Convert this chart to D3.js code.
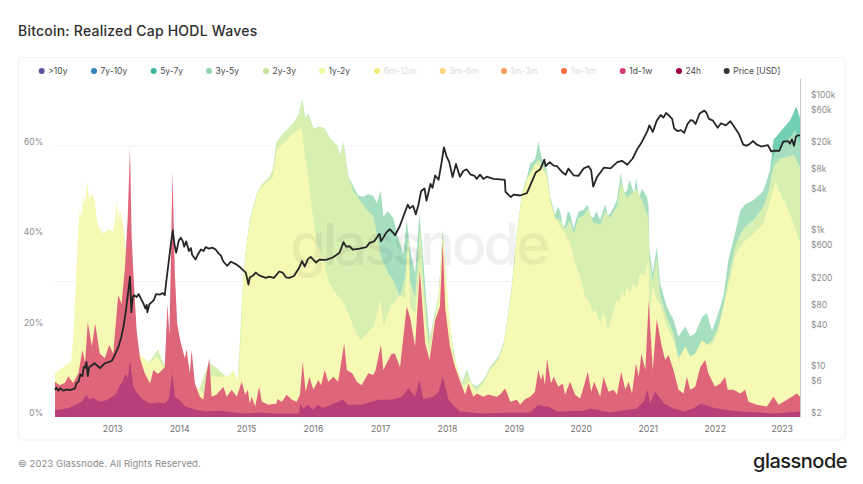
<!DOCTYPE html>
<html><head><meta charset="utf-8">
<script src="https://cdnjs.cloudflare.com/ajax/libs/d3/7.8.5/d3.min.js"></script>
<style>html,body{margin:0;background:#fff}svg{display:block}text{font-family:Inter,"Noto Sans",sans-serif}</style>
</head><body><svg id="c" width="863" height="484"></svg>
<script>
const legendNames=[">10y","7y-10y","5y-7y","3y-5y","2y-3y","1y-2y","6m-12m","3m-6m","1m-3m","1w-1m","1d-1w","24h","Price [USD]"];
const legendColors=["#5e4fa2","#3288bd","#3db39a","#94d4b0","#c5e59b","#f0f9a0","#f2ef7a","#fdd57f","#fb9c5c","#f46d43","#d53e6f","#9e0142","#333333"];
const legendMuted=["6m-12m","3m-6m","1m-3m","1w-1m"];
const yearTicks=[2013,2014,2015,2016,2017,2018,2019,2020,2021,2022,2023];
const pctTicks=[0,20,40,60];
const priceTicks=[2,6,10,40,80,200,600,1000,4000,8000,20000,60000,100000];
const priceGrid=[200,20000];
// each band: [decimal year, cumulative % of realized cap at the top of the band]
const top24h=[[2012.15,1.5],[2012.25,1.7],[2012.35,2],[2012.45,2.6],[2012.55,3.4],[2012.62,5],[2012.66,3.8],[2012.72,4.2],[2012.82,3.4],[2012.92,3.7],[2013.0,4.5],[2013.07,5.2],[2013.12,7],[2013.16,7.8],[2013.2,9.5],[2013.24,8.8],[2013.27,12.6],[2013.32,6.7],[2013.38,5.2],[2013.45,4],[2013.57,3],[2013.7,3.2],[2013.79,3],[2013.85,4],[2013.905,9.7],[2013.94,4.5],[2014.0,3.8],[2014.1,2.3],[2014.25,1.6],[2014.4,1.2],[2014.6,1.4],[2015.0,0.8],[2015.2,1],[2015.5,0.7],[2015.8,0.8],[2015.81,3],[2015.86,1.9],[2015.93,2.7],[2016.0,1.6],[2016.08,2.7],[2016.15,2],[2016.28,2.7],[2016.45,3.8],[2016.53,2.7],[2016.73,2.7],[2016.98,3.8],[2017.18,3.8],[2017.33,4.5],[2017.43,6.3],[2017.53,4.5],[2017.595,8.2],[2017.65,4],[2017.8,4.5],[2017.88,5.5],[2017.943,8.9],[2018.03,3.8],[2018.1,2.6],[2018.2,1.2],[2018.55,0.8],[2018.95,1],[2019.25,1],[2019.37,2.7],[2019.45,2.3],[2019.52,2.3],[2019.65,1.2],[2020.05,1.4],[2020.15,1.9],[2020.44,1],[2020.84,1.9],[2020.95,3.5],[2021.0,6],[2021.04,3],[2021.115,5.6],[2021.25,3],[2021.39,1.9],[2021.55,1.2],[2021.7,2],[2021.8,3],[2021.88,2.6],[2022.0,2],[2022.2,1.5],[2022.4,1.2],[2022.9,0.8],[2023.28,1.2]];
const top1d1w=[[2012.15,7.8],[2012.22,7],[2012.3,7.6],[2012.35,9],[2012.42,7.5],[2012.5,9.7],[2012.56,14.8],[2012.6,12],[2012.64,21],[2012.7,15.6],[2012.75,20.7],[2012.82,14],[2012.895,13],[2012.96,16],[2013.02,14],[2013.095,27],[2013.145,25],[2013.195,33],[2013.235,43.6],[2013.27,59.5],[2013.295,40],[2013.32,32],[2013.37,19],[2013.42,13],[2013.49,9.7],[2013.57,7.4],[2013.62,10.4],[2013.69,9.5],[2013.79,11],[2013.83,25],[2013.86,18],[2013.905,54.5],[2013.94,32],[2013.975,20.7],[2014.02,17],[2014.09,13],[2014.115,15],[2014.165,9.7],[2014.19,14.8],[2014.24,7.4],[2014.315,4.5],[2014.365,3.8],[2014.415,9.7],[2014.455,13],[2014.49,4.5],[2014.565,5],[2014.665,6.7],[2014.715,4.5],[2014.79,6],[2014.865,4.5],[2014.94,7.8],[2014.99,4.9],[2015.03,6],[2015.06,3],[2015.09,4.5],[2015.14,2.3],[2015.2,6.7],[2015.24,3.4],[2015.34,2.7],[2015.46,3],[2015.47,4],[2015.54,3.4],[2015.61,4.9],[2015.69,3.8],[2015.76,3.4],[2015.81,4.9],[2015.85,12.2],[2015.895,5.6],[2015.95,8.9],[2016.01,6],[2016.085,8.2],[2016.125,7],[2016.18,10.4],[2016.23,7.8],[2016.31,8.9],[2016.38,7.8],[2016.47,16.3],[2016.51,10.4],[2016.59,9.7],[2016.66,7.8],[2016.73,7],[2016.83,9.7],[2016.905,9.3],[2016.94,10.4],[2017.02,16],[2017.055,10.4],[2017.105,11.9],[2017.18,14],[2017.23,14],[2017.305,11],[2017.355,17.8],[2017.405,24.5],[2017.455,22],[2017.53,15.6],[2017.6,32.5],[2017.68,16.3],[2017.745,12.6],[2017.83,21.5],[2017.9,24.4],[2017.943,39],[2017.98,24],[2018.05,15.6],[2018.127,11],[2018.2,8],[2018.277,5],[2018.327,7.4],[2018.4,4.5],[2018.45,5.2],[2018.55,4.5],[2018.62,5],[2018.75,4.5],[2018.8,5],[2018.875,6.3],[2018.925,4.5],[2018.95,3.4],[2019.05,3.8],[2019.1,2.7],[2019.17,3.9],[2019.25,4.5],[2019.32,5.6],[2019.37,10.4],[2019.41,8.2],[2019.44,9.7],[2019.47,7],[2019.5,13],[2019.56,7.4],[2019.6,8.9],[2019.67,6.7],[2019.735,7.4],[2019.77,4.9],[2019.845,7.8],[2019.92,4.9],[2019.995,4.1],[2020.055,7],[2020.11,10],[2020.16,5.6],[2020.205,7.8],[2020.295,4.5],[2020.345,8.9],[2020.42,5.6],[2020.495,6],[2020.545,4.9],[2020.61,10],[2020.67,6],[2020.72,7.8],[2020.77,5.2],[2020.83,11.9],[2020.87,8.9],[2020.91,14],[2020.97,10.4],[2021.02,25.9],[2021.08,10.4],[2021.14,21.7],[2021.215,15.6],[2021.265,12.6],[2021.315,13.7],[2021.39,10.4],[2021.465,6],[2021.54,5.2],[2021.59,8.9],[2021.64,6],[2021.715,6.7],[2021.79,11],[2021.865,12.6],[2021.91,9.7],[2022.01,6.7],[2022.09,7.4],[2022.16,8.9],[2022.2,6],[2022.285,6],[2022.39,5.2],[2022.46,6],[2022.51,3.4],[2022.635,2.7],[2022.785,2.3],[2022.885,4.5],[2022.96,2.7],[2023.085,3.8],[2023.235,5.2],[2023.28,4.5]];
const top1y2y=[[2012.15,9.7],[2012.27,11],[2012.39,12.2],[2012.43,19],[2012.47,32.5],[2012.5,42],[2012.52,45.8],[2012.55,44],[2012.57,49],[2012.6,47],[2012.63,52.4],[2012.66,48],[2012.7,49.5],[2012.745,48],[2012.77,44],[2012.795,42],[2012.87,40.6],[2012.95,41.5],[2013.02,41],[2013.05,44],[2013.07,48],[2013.1,43],[2013.12,46],[2013.19,40],[2013.23,32],[2013.27,30],[2013.32,19],[2013.37,18.5],[2013.42,13.7],[2013.57,12],[2013.67,13.3],[2013.77,11],[2013.83,10],[2013.9,10],[2014.0,9],[2014.2,8],[2014.3,6],[2014.39,5],[2014.45,9],[2014.66,8.9],[2014.74,9],[2014.81,10.4],[2014.885,8],[2014.9,10],[2014.93,18],[2014.96,30],[2015.01,37.7],[2015.06,43],[2015.16,48.7],[2015.24,51],[2015.41,53],[2015.46,59],[2015.56,60.5],[2015.71,62.8],[2015.835,64],[2015.885,57.6],[2015.935,53],[2015.985,46.5],[2016.06,38.4],[2016.16,34.7],[2016.235,30],[2016.335,27.4],[2016.435,25.9],[2016.53,23],[2016.61,20],[2016.71,17],[2016.81,18.5],[2016.91,20],[2017.01,25.9],[2017.06,20],[2017.16,24.4],[2017.305,27],[2017.38,26],[2017.43,39],[2017.455,24.4],[2017.53,23],[2017.605,34],[2017.68,22],[2017.74,14],[2017.805,20],[2017.88,26],[2017.943,40],[2018.03,24],[2018.1,14],[2018.18,10],[2018.25,6.7],[2018.35,8],[2018.45,5.6],[2018.55,7.4],[2018.65,10.4],[2018.775,12.6],[2018.85,15.8],[2018.9,20.2],[2018.975,28.3],[2019.05,40],[2019.125,49],[2019.2,52.5],[2019.3,55],[2019.323,56],[2019.423,55],[2019.498,53],[2019.548,48],[2019.622,44],[2019.697,42],[2019.772,40.6],[2019.846,38.4],[2019.921,34],[2019.996,31],[2020.07,26.6],[2020.145,25],[2020.19,23],[2020.22,24],[2020.295,20.7],[2020.34,23],[2020.37,22],[2020.41,19],[2020.444,21],[2020.49,23],[2020.544,26],[2020.58,25],[2020.62,28],[2020.66,26.5],[2020.693,28.8],[2020.74,27.5],[2020.793,29.6],[2020.84,28.5],[2020.893,31.8],[2020.95,31],[2021.017,34.7],[2021.03,22],[2021.08,29],[2021.14,26],[2021.19,25],[2021.29,20],[2021.39,17],[2021.465,12.6],[2021.565,15.6],[2021.64,13.3],[2021.715,14],[2021.815,17],[2021.89,16],[2021.965,16],[2022.06,19],[2022.14,24.4],[2022.21,29],[2022.31,35.5],[2022.39,37.7],[2022.46,39],[2022.586,40.6],[2022.735,42.8],[2022.835,48],[2022.91,52],[2022.985,49.5],[2023.085,46.5],[2023.185,42.8],[2023.28,38.4]];
const top2y3y=[[2013.5,9],[2013.55,12],[2013.62,13.5],[2013.69,15],[2013.75,12.5],[2013.85,10],[2014.0,8],[2014.3,6],[2014.4,10],[2014.45,12],[2014.55,11],[2014.7,9],[2014.88,8],[2014.96,30.2],[2015.01,38],[2015.06,43.4],[2015.16,49.2],[2015.24,51.5],[2015.36,53.3],[2015.41,55],[2015.46,60.8],[2015.56,62.7],[2015.71,64.9],[2015.785,66.7],[2015.845,70],[2015.885,66],[2015.935,67.1],[2016.01,63.8],[2016.11,64.2],[2016.18,63.8],[2016.26,61.6],[2016.36,60.1],[2016.41,57.9],[2016.46,60.5],[2016.53,53.3],[2016.61,50],[2016.81,45.8],[2016.91,44.3],[2017.01,36.2],[2017.06,34],[2017.13,31.8],[2017.205,30.3],[2017.305,26.6],[2017.38,31],[2017.43,40],[2017.455,30],[2017.53,26.6],[2017.605,42],[2017.655,30],[2017.73,17],[2017.805,21],[2017.88,26.6],[2017.943,41],[2018.0,24.8],[2018.08,17],[2018.15,10.8],[2018.23,7.2],[2018.3,10],[2018.38,7.2],[2018.45,6.4],[2018.55,8],[2018.65,10.8],[2018.775,13],[2018.85,16],[2018.9,20.5],[2018.975,28.6],[2019.05,40.3],[2019.125,49.3],[2019.2,52.8],[2019.3,55.5],[2019.373,57],[2019.423,56],[2019.498,54],[2019.548,48],[2019.622,44],[2019.697,43.6],[2019.772,41.5],[2019.846,43.5],[2019.896,40.5],[2019.971,44],[2020.046,44.5],[2020.105,46],[2020.195,43],[2020.295,42.5],[2020.37,45.5],[2020.444,44],[2020.544,46.5],[2020.604,52],[2020.693,48.5],[2020.768,49.5],[2020.833,50.5],[2020.918,48],[2021.017,44],[2021.03,35],[2021.08,30],[2021.14,35.5],[2021.19,27],[2021.29,22],[2021.39,18.5],[2021.465,13.3],[2021.565,14.8],[2021.64,13.3],[2021.715,14],[2021.815,17],[2021.89,16],[2021.965,17],[2022.06,20],[2022.14,25],[2022.225,31.8],[2022.31,37.7],[2022.39,40.6],[2022.46,42],[2022.586,43.6],[2022.735,46.5],[2022.81,50],[2022.885,55.4],[2022.985,57.2],[2023.085,57.5],[2023.185,58],[2023.28,55.4]];
const top3y5y=[[2014.96,30.5],[2015.01,38],[2015.06,43.5],[2015.16,49],[2015.24,51.3],[2015.36,53.1],[2015.41,54.9],[2015.46,60.8],[2015.56,62.7],[2015.71,64.9],[2015.785,66.7],[2015.845,70.3],[2015.885,66],[2015.935,67.1],[2016.01,63.8],[2016.11,64.2],[2016.18,63.8],[2016.26,61.6],[2016.36,60.1],[2016.41,57.9],[2016.46,60.8],[2016.53,53.3],[2016.61,50.9],[2016.68,49],[2016.76,48.7],[2016.83,49.3],[2016.91,48.8],[2016.957,47.3],[2017.016,50],[2017.056,44.3],[2017.12,45.5],[2017.206,44],[2017.255,40.6],[2017.355,36],[2017.405,43.6],[2017.455,37],[2017.53,31.8],[2017.595,45],[2017.655,34],[2017.705,24.4],[2017.755,15.6],[2017.805,21.5],[2017.88,26.6],[2017.943,41.4],[2018.003,25],[2018.078,17],[2018.153,11],[2018.227,7.4],[2018.302,10.4],[2018.377,7.4],[2018.452,6.7],[2018.551,8.2],[2018.651,11],[2018.775,13.3],[2018.85,16.3],[2018.9,20.7],[2018.974,29],[2019.05,40.6],[2019.125,49.5],[2019.2,53],[2019.248,56],[2019.323,57],[2019.373,61],[2019.423,57],[2019.498,54.6],[2019.548,48.7],[2019.622,44.7],[2019.66,46.5],[2019.697,45.4],[2019.74,42],[2019.772,42.5],[2019.81,45.5],[2019.846,45],[2019.896,41.7],[2019.93,43.5],[2019.971,45.4],[2020.046,45.8],[2020.105,47],[2020.15,44.5],[2020.195,44],[2020.24,45.5],[2020.295,43.6],[2020.37,47],[2020.41,44.5],[2020.444,45],[2020.5,46.5],[2020.544,48],[2020.604,54],[2020.65,49.5],[2020.693,50],[2020.73,52.5],[2020.768,51],[2020.8,49.5],[2020.833,52.8],[2020.875,48.5],[2020.918,50.6],[2020.99,48.7],[2021.017,47],[2021.03,37],[2021.08,31.8],[2021.14,37.7],[2021.19,29.6],[2021.29,24.4],[2021.39,21.5],[2021.465,17.8],[2021.565,20],[2021.64,17.8],[2021.715,18.5],[2021.815,22],[2021.89,23],[2021.965,19],[2022.06,23],[2022.14,27],[2022.21,34.7],[2022.31,40.6],[2022.39,45.8],[2022.46,47],[2022.586,48],[2022.735,50],[2022.835,54.6],[2022.885,58],[2023.035,60.5],[2023.135,62],[2023.21,63.5],[2023.28,60.5]];
const top5y7y=[[2022.735,50],[2022.835,54.6],[2022.885,61.3],[2023.035,63.9],[2023.135,65.7],[2023.225,68.7],[2023.275,66.4],[2023.28,66]];
const priceUsd=[[2012.15,5],[2012.17,5.4],[2012.2,4.9],[2012.23,5.3],[2012.27,4.9],[2012.3,5],[2012.33,5.1],[2012.37,5],[2012.41,5.1],[2012.45,5.3],[2012.47,6.3],[2012.5,6.6],[2012.53,8.5],[2012.56,8],[2012.58,11],[2012.6,10.6],[2012.62,13],[2012.64,8],[2012.66,10.8],[2012.7,11.5],[2012.74,12.4],[2012.78,11.5],[2012.82,10.5],[2012.86,11.5],[2012.9,12.5],[2012.96,13],[2013.0,13.5],[2013.05,17],[2013.1,22],[2013.14,30],[2013.18,47],[2013.21,75],[2013.24,130],[2013.27,235],[2013.285,100],[2013.29,70],[2013.31,115],[2013.33,125],[2013.37,118],[2013.4,130],[2013.44,108],[2013.47,95],[2013.5,80],[2013.52,90],[2013.53,70],[2013.56,92],[2013.6,100],[2013.63,108],[2013.66,130],[2013.72,128],[2013.76,135],[2013.79,125],[2013.81,190],[2013.85,400],[2013.88,700],[2013.91,1130],[2013.935,700],[2013.96,530],[2014.0,800],[2014.03,880],[2014.06,780],[2014.08,650],[2014.11,780],[2014.15,560],[2014.18,620],[2014.2,490],[2014.25,420],[2014.28,490],[2014.33,590],[2014.37,560],[2014.4,640],[2014.45,610],[2014.5,630],[2014.55,590],[2014.6,510],[2014.63,480],[2014.66,400],[2014.72,340],[2014.78,390],[2014.85,360],[2014.92,320],[2015.0,270],[2015.04,180],[2015.06,230],[2015.1,240],[2015.15,270],[2015.2,245],[2015.25,235],[2015.3,225],[2015.35,235],[2015.42,225],[2015.5,280],[2015.55,270],[2015.6,230],[2015.65,225],[2015.72,240],[2015.8,320],[2015.84,400],[2015.88,330],[2015.93,430],[2015.97,460],[2016.0,425],[2016.05,380],[2016.1,420],[2016.2,415],[2016.3,450],[2016.4,530],[2016.46,760],[2016.5,650],[2016.55,660],[2016.6,590],[2016.7,610],[2016.8,640],[2016.85,740],[2016.92,780],[2016.98,960],[2017.0,1000],[2017.02,780],[2017.06,900],[2017.1,1050],[2017.15,1180],[2017.2,1050],[2017.23,960],[2017.3,1300],[2017.37,2000],[2017.42,2700],[2017.45,2400],[2017.5,2600],[2017.54,1950],[2017.58,2700],[2017.62,4300],[2017.67,4700],[2017.7,3100],[2017.76,5500],[2017.79,4800],[2017.83,7300],[2017.88,6300],[2017.92,10500],[2017.96,19000],[2018.0,14000],[2018.04,11500],[2018.09,6900],[2018.14,10800],[2018.2,7000],[2018.25,8500],[2018.3,9000],[2018.36,7500],[2018.42,7200],[2018.45,6500],[2018.5,7500],[2018.55,6500],[2018.6,7000],[2018.7,6500],[2018.8,6400],[2018.87,6300],[2018.88,4200],[2018.96,3500],[2019.0,3800],[2019.1,3700],[2019.2,4000],[2019.25,5200],[2019.33,8000],[2019.4,9000],[2019.46,12500],[2019.48,10000],[2019.54,11500],[2019.6,10200],[2019.65,10000],[2019.72,8300],[2019.78,7500],[2019.82,9200],[2019.9,7300],[2019.97,7200],[2020.05,9300],[2020.12,10000],[2020.16,8700],[2020.19,5000],[2020.25,7000],[2020.35,9500],[2020.45,9300],[2020.55,11500],[2020.62,12000],[2020.7,10500],[2020.78,13000],[2020.85,18000],[2020.92,23000],[2021.0,33000],[2021.03,40000],[2021.08,32000],[2021.14,47000],[2021.2,57000],[2021.24,52000],[2021.28,61000],[2021.33,55000],[2021.37,50000],[2021.4,36000],[2021.45,33000],[2021.5,34000],[2021.55,31000],[2021.6,42000],[2021.65,48000],[2021.68,47000],[2021.72,42000],[2021.78,60000],[2021.85,66000],[2021.88,62000],[2021.92,50000],[2021.98,47000],[2022.05,37000],[2022.1,43000],[2022.17,40000],[2022.24,46000],[2022.3,38000],[2022.37,29500],[2022.43,21000],[2022.47,20000],[2022.52,21000],[2022.58,23500],[2022.63,21000],[2022.7,19500],[2022.8,20500],[2022.85,16500],[2022.9,17000],[2022.97,16800],[2023.03,23000],[2023.1,23500],[2023.13,21500],[2023.16,24800],[2023.19,20000],[2023.22,27500],[2023.25,28500],[2023.28,28500]];
const bands=[[top5y7y,"#72cfb4"],[top3y5y,"#a6dfc0"],[top2y3y,"#d8efb2"],[top1y2y,"#f6f9b4"],[top1d1w,"#df667a"],[top24h,"#b83f78"]];

const svg=d3.select("#c");
const x=d3.scaleLinear().domain([2012.15,2023.28]).range([55,800]);
const y=d3.scaleLinear().domain([0,75]).range([417,77.9]);
const yP=d3.scaleLog().domain([2,200000]).range([417,78]);

svg.append("rect").attr("x",18.5).attr("y",57.5).attr("width",826.5).attr("height",382.5).attr("rx",3).attr("fill","#fff").attr("stroke","#f1f1f1");
svg.append("text").attr("x",18).attr("y",36).attr("font-size",14).attr("font-weight",500).attr("letter-spacing",0.22).attr("fill","#2e2e2e").text("Bitcoin: Realized Cap HODL Waves");
svg.append("text").attr("x",18).attr("y",466.5).attr("font-size",9.5).attr("letter-spacing",0.08).attr("fill","#8a8a8a").text("© 2023 Glassnode. All Rights Reserved.");
svg.append("text").attr("x",753).attr("y",468).attr("font-size",20).attr("font-weight",500).attr("letter-spacing",-0.5).attr("fill","#1c1c1c").text("glassnode");

svg.append("g").selectAll("line").data(priceGrid).join("line").attr("x1",55).attr("x2",800).attr("y1",d=>yP(d)).attr("y2",d=>yP(d)).attr("stroke","#f3f3f3");

const area=d3.area().x(d=>x(d[0])).y0(y(0)).y1(d=>y(d[1]));
svg.append("g").selectAll("path").data(bands).join("path").attr("d",d=>area(d[0])).attr("fill",d=>d[1]);

svg.append("text").attr("x",290).attr("y",265).attr("font-size",58).attr("font-weight",500).attr("letter-spacing",-3.2).attr("fill","#000").attr("opacity",0.05).text("glassnode");

svg.append("line").attr("x1",800.5).attr("x2",800.5).attr("y1",79).attr("y2",417).attr("stroke","#c9c9c0");

const line=d3.line().x(d=>x(d[0])).y(d=>yP(d[1]));
svg.append("path").attr("d",line(priceUsd)).attr("fill","none").attr("stroke","#262626").attr("stroke-width",1.8).attr("stroke-linejoin","round");

const xAxis=d3.axisBottom(d3.scaleTime().domain([new Date(2012,1,24),new Date(2023,3,11)]).range([55,800])).tickValues(yearTicks.map(t=>new Date(t,0,1))).tickFormat(d3.timeFormat("%Y")).tickSize(0);
const gx=svg.append("g").attr("transform","translate(0,417)").call(xAxis);
gx.select(".domain").remove();
gx.selectAll("text").attr("dy",0).attr("y",14.5).attr("font-size",8.7).attr("font-family",null).attr("fill","#6f6f6f");

const yAxis=d3.axisLeft(y).tickValues(pctTicks).tickFormat(d=>d+"%").tickSize(0);
const gy=svg.append("g").attr("transform","translate(43,-4)").call(yAxis);
gy.select(".domain").remove();
gy.selectAll("text").attr("x",0).attr("font-size",8.5).attr("font-family",null).attr("fill","#8c8c8c");

const fmt=d=>d>=1000?"$"+d/1000+"k":"$"+d;
const yAxisR=d3.axisRight(yP).tickValues(priceTicks).tickFormat(fmt).tickSize(0);
const gr=svg.append("g").attr("transform","translate(811,-4)").call(yAxisR);
gr.select(".domain").remove();
gr.selectAll("text").attr("x",0).attr("font-size",8.5).attr("font-family",null).attr("fill","#8c8c8c");

const legendPos=[41.7,94,153.7,209,266,322,377,442.7,504,564,622.7,679,726.7];
const lg=svg.append("g").selectAll("g").data(legendNames).join("g").attr("transform",(d,i)=>`translate(${legendPos[i]},71)`);
lg.append("circle").attr("r",3).attr("fill",(d,i)=>legendColors[i]);
lg.append("text").attr("x",6.5).attr("y",3).attr("font-size",8.5).attr("fill",d=>legendMuted.includes(d)?"#dcdcdc":"#4a4a4a").text(d=>d);
</script></body></html>
